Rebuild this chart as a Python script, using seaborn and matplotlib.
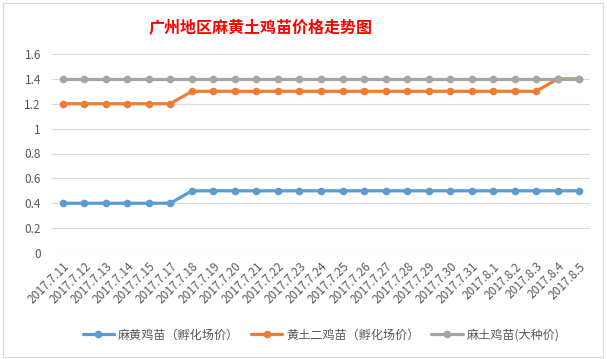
import matplotlib
matplotlib.use("Agg")
import matplotlib.pyplot as plt
import seaborn as sns
import pandas as pd
from matplotlib.patches import Rectangle

dates = ["2017.7.11", "2017.7.12", "2017.7.13", "2017.7.14", "2017.7.15", "2017.7.17",
         "2017.7.18", "2017.7.19", "2017.7.20", "2017.7.21", "2017.7.22", "2017.7.23",
         "2017.7.24", "2017.7.25", "2017.7.26", "2017.7.27", "2017.7.28", "2017.7.29",
         "2017.7.30", "2017.7.31", "2017.8.1", "2017.8.2", "2017.8.3", "2017.8.4", "2017.8.5"]
mahuang = [0.4] * 6 + [0.5] * 19
huangtu = [1.2] * 6 + [1.3] * 17 + [1.4] * 2
matu = [1.4] * 25
names = ["麻黄鸡苗（孵化场价）", "黄土二鸡苗（孵化场价）", "麻土鸡苗(大种价)"]
colors = ["#5B9BD5", "#ED7D31", "#A5A5A5"]
yticks = [0, 0.2, 0.4, 0.6, 0.8, 1, 1.2, 1.4, 1.6]
ytick_labels = ["0", "0.2", "0.4", "0.6", "0.8", "1", "1.2", "1.4", "1.6"]

rows = []
for name, vals in zip(names, [mahuang, huangtu, matu]):
    for i, (d, v) in enumerate(zip(dates, vals)):
        rows.append({"idx": i, "date": d, "value": v, "series": name})
df = pd.DataFrame(rows)

sns.set_theme(style="white")
plt.rcParams['font.family'] = ['Noto Sans CJK SC', 'DejaVu Sans']

fig = plt.figure(figsize=(6.07, 3.59), dpi=100)
fig.patch.set_facecolor("white")
ax = fig.add_axes([52/607, 1 - 253/359, 538/607, 199/359])

sns.lineplot(data=df, x="idx", y="value", hue="series", hue_order=names,
             palette=colors, marker="o", markersize=5.5, markeredgewidth=0,
             linewidth=2.3, ax=ax, zorder=3)

ax.set_xlim(-0.5, len(dates) - 0.5)
ax.set_ylim(0, 1.6)
ax.set_yticks(yticks)
ax.set_yticklabels(ytick_labels, fontsize=8.5, color="#595959")
ax.set_xticks(range(len(dates)))
ax.set_xticklabels(dates, rotation=45, ha="right", rotation_mode="anchor",
                   fontsize=8.5, color="#595959")
ax.tick_params(axis="x", length=0, pad=5)
ax.tick_params(axis="y", length=0, pad=8)
ax.yaxis.grid(True, color="#D9D9D9", linewidth=0.8, zorder=0)
ax.set_axisbelow(True)
for s in ax.spines.values():
    s.set_visible(False)
ax.set_xlabel("")
ax.set_ylabel("")

leg = ax.legend(loc="center", bbox_to_anchor=(0.5, (335 - 253) / -199), ncol=3,
                frameon=False, fontsize=8.7, handlelength=2.6, columnspacing=1.0,
                handletextpad=0.3)
for t in leg.get_texts():
    t.set_color("#595959")

fig.text(261/607, 1 - 27/359, "广州地区麻黄土鸡苗价格走势图", ha="center", va="center",
         fontsize=11.5, color="#FF0000", fontweight="bold")

fig.patches.append(Rectangle((3/607, 2/359), 600/607, 354/359, transform=fig.transFigure,
                             fill=False, edgecolor="#D9D9D9", linewidth=0.8))

fig.savefig("out.png", dpi=100)
